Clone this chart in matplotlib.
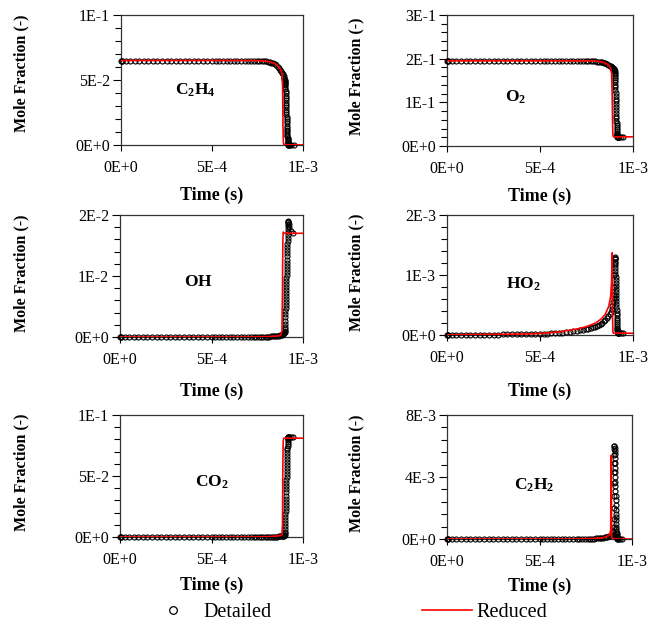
import matplotlib
matplotlib.use("Agg")
import matplotlib.pyplot as plt
import numpy as np
from matplotlib.lines import Line2D
from matplotlib.ticker import MultipleLocator, FuncFormatter

plt.rcParams["font.family"] = "Liberation Serif"
plt.rcParams["mathtext.fontset"] = "custom"
plt.rcParams["mathtext.rm"] = "Liberation Serif"
plt.rcParams["mathtext.bf"] = "Liberation Serif:bold"

# time grids in ms (converted to s below)
t_detailed_ms = [0.000, 0.003, 0.008, 0.025, 0.050, 0.075, 0.100, 0.125, 0.150, 0.175,
                 0.200, 0.225, 0.250, 0.275, 0.300, 0.325, 0.350, 0.375, 0.400, 0.425,
                 0.450, 0.475, 0.500, 0.520, 0.540, 0.560, 0.580, 0.600, 0.620, 0.640,
                 0.660, 0.680, 0.700,
                 # pre-ignition
                 0.715, 0.730, 0.745, 0.760, 0.772, 0.784, 0.796, 0.806, 0.816, 0.826,
                 0.835, 0.844, 0.852, 0.860, 0.867, 0.874, 0.880, 0.885, 0.889, 0.893,
                 0.896, 0.898,
                 # ignition
                 0.9000, 0.9005, 0.9010, 0.9015, 0.9020, 0.9025, 0.9030, 0.9035, 0.9040, 0.9045,
                 0.9050, 0.9055, 0.9060, 0.9065, 0.9070, 0.9075, 0.9080, 0.9085, 0.9090, 0.9095,
                 0.9100, 0.9105, 0.9110, 0.9115, 0.9120, 0.9125, 0.9130, 0.9135, 0.9140, 0.9145,
                 0.9150, 0.9155, 0.9160, 0.9165, 0.9170, 0.9175, 0.9180, 0.9185, 0.9190, 0.9195,
                 # post-ignition
                 0.920, 0.922, 0.926, 0.935, 0.948]
t_reduced_ms = [0.0, 0.1, 0.2, 0.3, 0.4, 0.5, 0.6, 0.7, 0.75, 0.8, 0.83, 0.85, 0.87,
                0.88, 0.885, 0.888, 0.890, 0.892, 0.895, 0.9, 0.95, 1.0]

# detailed mechanism (circles)
c2h4_det = [0.065, 0.065, 0.065, 0.065, 0.065, 0.065, 0.065, 0.065, 0.065, 0.065,
            0.065, 0.065, 0.065, 0.065, 0.065, 0.065, 0.065, 0.065, 0.065, 0.065,
            0.065, 0.065, 0.065, 0.065, 0.065, 0.065, 0.065, 0.065, 0.065, 0.065,
            0.065, 0.065, 0.065,
            0.065, 0.065, 0.0649, 0.0648, 0.0647, 0.0645, 0.0643, 0.064, 0.0637, 0.0632,
            0.0627, 0.062, 0.0612, 0.0603, 0.0592, 0.058, 0.0567, 0.0555, 0.0543, 0.053,
            0.0518, 0.051,
            0.0500, 0.0495, 0.0488, 0.0480, 0.0470, 0.0458, 0.0445, 0.0430, 0.0414, 0.0397,
            0.0380, 0.0362, 0.0344, 0.0326, 0.0308, 0.0290, 0.0272, 0.0254, 0.0236, 0.0218,
            0.0200, 0.0183, 0.0166, 0.0150, 0.0134, 0.0119, 0.0105, 0.0092, 0.0080, 0.0068,
            0.0057, 0.0047, 0.0038, 0.0030, 0.0023, 0.0017, 0.0012, 0.0008, 0.0005, 0.0003,
            0.0002, 0.0001, 0.0001, 0.0001, 0.0001]
o2_det = [0.195, 0.195, 0.195, 0.195, 0.195, 0.195, 0.195, 0.195, 0.195, 0.195,
          0.195, 0.195, 0.195, 0.195, 0.195, 0.195, 0.195, 0.195, 0.195, 0.195,
          0.195, 0.195, 0.195, 0.195, 0.195, 0.195, 0.195, 0.195, 0.195, 0.195,
          0.195, 0.195, 0.195,
          0.195, 0.195, 0.195, 0.1948, 0.1946, 0.1943, 0.194, 0.1935, 0.193, 0.1922,
          0.1913, 0.1902, 0.189, 0.1876, 0.186, 0.1842, 0.1825, 0.181, 0.1795, 0.178,
          0.1765, 0.1755,
          0.1745, 0.173, 0.171, 0.168, 0.1645, 0.1605, 0.156, 0.151, 0.1455, 0.140,
          0.134, 0.128, 0.1215, 0.115, 0.1085, 0.102, 0.0955, 0.089, 0.0825, 0.076,
          0.0698, 0.0638, 0.058, 0.0525, 0.0473, 0.0425, 0.038, 0.034, 0.0305, 0.0275,
          0.025, 0.0232, 0.0222, 0.0216, 0.0213, 0.0211, 0.021, 0.021, 0.021, 0.021,
          0.021, 0.021, 0.0212, 0.0213, 0.0213]
oh_det = [0.0, 0.0, 0.0, 0.0, 0.0, 0.0, 0.0, 0.0, 0.0, 0.0,
          0.0, 0.0, 0.0, 0.0, 0.0, 0.0, 0.0, 0.0, 0.0, 0.0,
          0.0, 0.0, 0.0, 0.0, 0.0, 0.0, 0.0, 0.0, 0.0, 0.0,
          0.0, 0.0, 0.0,
          0.00001, 0.00001, 0.00002, 0.00002, 0.00003, 0.00004, 0.00005, 0.00006, 0.00007, 0.00009,
          0.00011, 0.00013, 0.00016, 0.00019, 0.00023, 0.00028, 0.00034, 0.0004, 0.00047, 0.00055,
          0.00063, 0.0007,
          0.0008, 0.0010, 0.0013, 0.0017, 0.0022, 0.0027, 0.0032, 0.0037, 0.0042, 0.0047,
          0.0052, 0.0057, 0.0062, 0.0067, 0.0072, 0.0077, 0.0082, 0.0087, 0.0092, 0.0097,
          0.0102, 0.0107, 0.0112, 0.0117, 0.0122, 0.0127, 0.0132, 0.0137, 0.0142, 0.0147,
          0.0152, 0.0157, 0.0162, 0.0167, 0.0172, 0.0177, 0.0182, 0.0186, 0.0189, 0.0190,
          0.0189, 0.0186, 0.0180, 0.0174, 0.0170]
ho2_det = [0.0, 0.000001, 0.000002, 0.000002, 0.000003, 0.000003, 0.000004, 0.000004, 0.000005, 0.000005,
           0.000006, 0.000006, 0.000007, 0.000008, 0.000009, 0.00001, 0.000011, 0.000012, 0.000013, 0.000014,
           0.000016, 0.000018, 0.00002, 0.000022, 0.000025, 0.000028, 0.000031, 0.000035, 0.00004, 0.000046,
           0.000053, 0.000061, 0.00007,
           0.000077, 0.000085, 0.000094, 0.000105, 0.000115, 0.000127, 0.00014, 0.000153, 0.000168, 0.000185,
           0.000204, 0.000226, 0.00025, 0.000278, 0.00031, 0.00035, 0.00039, 0.00044, 0.00049, 0.00055,
           0.00061, 0.00067,
           0.0008, 0.0010, 0.0012, 0.00127, 0.0013, 0.00129, 0.00126, 0.00122, 0.00117, 0.00112,
           0.00107, 0.00102, 0.00097, 0.00092, 0.00087, 0.00082, 0.00077, 0.00072, 0.00067, 0.00062,
           0.00057, 0.00052, 0.00047, 0.00042, 0.00037, 0.00033, 0.00029, 0.00025, 0.00021, 0.00018,
           0.00015, 0.00012, 0.0001, 0.00008, 0.00007, 0.00006, 0.00005, 0.000045, 0.00004, 0.000035,
           0.00003, 0.00003, 0.00003, 0.00003, 0.00003]
co2_det = [0.0, 0.0, 0.0, 0.0, 0.0, 0.0, 0.0, 0.0, 0.0, 0.0,
           0.0, 0.0, 0.0, 0.0, 0.0, 0.0, 0.0, 0.0, 0.0, 0.0,
           0.0, 0.0, 0.0, 0.0, 0.0, 0.0, 0.0, 0.0, 0.0, 0.0,
           0.0, 0.0, 0.0,
           0.00005, 0.00006, 0.00007, 0.00008, 0.0001, 0.00012, 0.00014, 0.00016, 0.00019, 0.00022,
           0.00026, 0.0003, 0.00035, 0.0004, 0.00047, 0.00055, 0.00065, 0.00076, 0.00088, 0.001,
           0.0012, 0.0014,
           0.002, 0.003, 0.0045, 0.0065, 0.009, 0.0115, 0.014, 0.0165, 0.019, 0.0215,
           0.024, 0.0265, 0.029, 0.0315, 0.034, 0.0365, 0.039, 0.0415, 0.044, 0.0465,
           0.049, 0.0515, 0.054, 0.0565, 0.059, 0.0615, 0.064, 0.0665, 0.069, 0.0712,
           0.0732, 0.075, 0.0766, 0.078, 0.0792, 0.0802, 0.081, 0.0815, 0.0818, 0.082,
           0.082, 0.082, 0.082, 0.082, 0.082]
c2h2_det = [0.0, 0.0, 0.0, 0.0, 0.0, 0.0, 0.0, 0.0, 0.0, 0.0,
            0.0, 0.0, 0.0, 0.0, 0.0, 0.0, 0.0, 0.0, 0.0, 0.0,
            0.0, 0.0, 0.0, 0.0, 0.0, 0.0, 0.0, 0.0, 0.0, 0.0,
            0.0, 0.0, 0.0,
            0.00001, 0.00001, 0.00001, 0.00002, 0.00002, 0.00003, 0.00003, 0.00004, 0.00005, 0.00006,
            0.00007, 0.00008, 0.0001, 0.00012, 0.00014, 0.00017, 0.0002, 0.00024, 0.00029, 0.00035,
            0.00042, 0.0005,
            0.0008, 0.0013, 0.002, 0.0028, 0.0036, 0.0043, 0.0049, 0.0054, 0.0058, 0.006,
            0.006, 0.0059, 0.0057, 0.0055, 0.0052, 0.0049, 0.0046, 0.0043, 0.004, 0.0037,
            0.0034, 0.0031, 0.0028, 0.0025, 0.0022, 0.0019, 0.0016, 0.0014, 0.0012, 0.001,
            0.0008, 0.00065, 0.0005, 0.0004, 0.0003, 0.0002, 0.00015, 0.0001, 0.00007, 0.00005,
            0.00003, 0.00001, 0.0, 0.0, 0.0]

# reduced mechanism (red line)
c2h4_red = [0.065, 0.065, 0.065, 0.065, 0.065, 0.065, 0.065, 0.065, 0.0649, 0.0645, 0.0635,
            0.0622, 0.0595, 0.057, 0.054, 0.045, 0.015, 0.002, 0.0003, 0.0002, 0.0001, 0.0001]
o2_red = [0.195, 0.195, 0.195, 0.195, 0.195, 0.195, 0.195, 0.195, 0.195, 0.1945, 0.193,
          0.190, 0.185, 0.178, 0.165, 0.120, 0.060, 0.025, 0.021, 0.021, 0.021, 0.021]
oh_red = [0.0, 0.0, 0.0, 0.0, 0.0, 0.0, 0.0, 0.0, 0.00003, 0.00005, 0.0001,
          0.00015, 0.0002, 0.0004, 0.001, 0.008, 0.016, 0.0172, 0.0171, 0.017, 0.017, 0.017]
ho2_red = [0.0, 0.000005, 0.000008, 0.000012, 0.000016, 0.000025, 0.00005, 0.0001, 0.00014, 0.0002, 0.00027,
           0.00034, 0.00048, 0.00065, 0.0009, 0.00137, 0.0003, 0.00005, 0.00003, 0.00003, 0.00003, 0.00003]
co2_red = [0.0, 0.0, 0.0, 0.0, 0.0, 0.0, 0.0, 0.0, 0.0001, 0.0002, 0.0005,
           0.0007, 0.001, 0.0015, 0.002, 0.010, 0.060, 0.079, 0.081, 0.081, 0.081, 0.081]
c2h2_red = [0.0, 0.0, 0.0, 0.0, 0.0, 0.0, 0.0, 0.0, 0.00002, 0.00004, 0.00007,
            0.0001, 0.0002, 0.0003, 0.0006, 0.0054, 0.0002, 0.00001, 0.0, 0.0, 0.0, 0.0]

species = [r"$\mathbf{C_2H_4}$", r"$\mathbf{O_2}$", r"$\mathbf{OH}$",
           r"$\mathbf{HO_2}$", r"$\mathbf{CO_2}$", r"$\mathbf{C_2H_2}$"]
detailed = [c2h4_det, o2_det, oh_det, ho2_det, co2_det, c2h2_det]
reduced = [c2h4_red, o2_red, oh_red, ho2_red, co2_red, c2h2_red]
y_max = [0.1, 0.3, 0.02, 0.002, 0.1, 0.008]
y_major = [0.05, 0.1, 0.01, 0.001, 0.05, 0.004]
y_minor = [0.01, 0.02, 0.002, 0.0002, 0.01, 0.0008]
tick_text = {0.1: "1E-1", 0.3: "3E-1", 0.2: "2E-1", 0.05: "5E-2", 0.02: "2E-2",
             0.01: "1E-2", 0.002: "2E-3", 0.001: "1E-3", 0.008: "8E-3", 0.004: "4E-3"}
label_pos = [(0.41, 0.42), (0.37, 0.37), (0.43, 0.45), (0.41, 0.42), (0.50, 0.45), (0.47, 0.43)]

# axes boxes in pixels: left, top, right, bottom
W, H = 653, 628
boxes = [(121, 15, 303, 145), (447, 15, 633, 146),
         (120, 215, 303, 337), (447, 215, 633, 335),
         (120, 415, 303, 537), (447, 415, 632, 539)]
ylabel_x = [29, 364, 29, 364, 29, 364]          # pixel x of the y-label anchor
ylabel_frac = [0.55, 0.53, 0.52, 0.52, 0.53, 0.53]
xlabel_drop = [42, 42, 46, 48, 40, 39]          # pixels below the axis

t_det = np.array(t_detailed_ms) * 1e-3
t_red = np.array(t_reduced_ms) * 1e-3


def fmt_y(v, pos):
    if abs(v) < 1e-12:
        return "0E+0"
    for k, s in tick_text.items():
        if abs(v - k) < 1e-9:
            return s
    return ""


def fmt_x(v, pos):
    return {0: "0E+0", 1: "5E-4", 2: "1E-3"}.get(int(round(v / 5e-4)), "")


fig = plt.figure(figsize=(W / 100, H / 100), dpi=100)

for i in range(6):
    l, t, r, b = boxes[i]
    ax = fig.add_axes([l / W, 1 - b / H, (r - l) / W, (b - t) / H])
    ax.plot(t_det, detailed[i], linestyle="none", marker="o", markersize=3.6,
            markerfacecolor="none", markeredgecolor="black", markeredgewidth=0.8,
            clip_on=False, zorder=3)
    ax.plot(t_red, reduced[i], color="red", linewidth=1.2, zorder=4)
    ax.set_xlim(0, 1e-3)
    ax.set_ylim(0, y_max[i])
    ax.xaxis.set_major_locator(MultipleLocator(5e-4))
    ax.yaxis.set_major_locator(MultipleLocator(y_major[i]))
    ax.yaxis.set_minor_locator(MultipleLocator(y_minor[i]))
    ax.xaxis.set_major_formatter(FuncFormatter(fmt_x))
    ax.yaxis.set_major_formatter(FuncFormatter(fmt_y))
    ax.tick_params(axis="y", which="major", direction="out", length=6, width=0.8,
                   labelsize=11.5, pad=2)
    ax.tick_params(axis="y", which="minor", direction="out", length=4, width=0.8)
    ax.tick_params(axis="x", which="major", direction="out", length=4, width=0.8,
                   labelsize=11.5, pad=7)
    for sp in ax.spines.values():
        sp.set_linewidth(0.9)
        sp.set_color("#333333")
    ax.set_xlabel("Time (s)", fontsize=13, fontweight="bold")
    ax.xaxis.set_label_coords(0.5, -xlabel_drop[i] / (b - t))
    ax.set_ylabel("Mole Fraction (-)", fontsize=11.5, fontweight="bold")
    ax.yaxis.set_label_coords((ylabel_x[i] - l) / (r - l), ylabel_frac[i])
    ax.text(label_pos[i][0], label_pos[i][1], species[i], transform=ax.transAxes,
            ha="center", va="center", fontsize=12.5)

handles = [Line2D([], [], linestyle="none", marker="o", markersize=5.5,
                  markerfacecolor="none", markeredgecolor="black", markeredgewidth=0.9),
           Line2D([], [], color="red", linewidth=1.2)]
fig.legend(handles, ["Detailed", "Reduced"], loc="center left",
           bbox_to_anchor=(148 / W, 1 - 612 / H), ncol=2, frameon=False,
           fontsize=14.5, handlelength=2.5, handletextpad=0.25, columnspacing=7.45,
           borderpad=0, borderaxespad=0)

fig.savefig("out.png", dpi=100)
